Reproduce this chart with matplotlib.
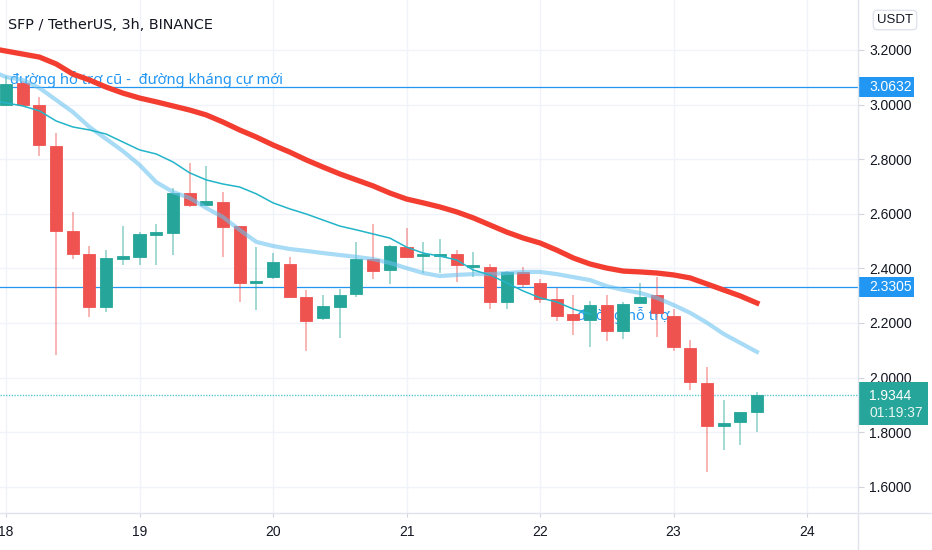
import matplotlib
matplotlib.use('Agg')

import matplotlib.pyplot as plt
from matplotlib.patches import Rectangle
from matplotlib.lines import Line2D
from matplotlib.transforms import blended_transform_factory

# 3h candles, starting on day 18 00:00
opens = [3.000, 3.080, 2.999, 2.848, 2.538, 2.453, 2.257, 2.436, 2.441, 2.524,
         2.529, 2.675, 2.632, 2.644, 2.555, 2.345, 2.370, 2.416, 2.294, 2.217,
         2.260, 2.305, 2.434, 2.394, 2.479, 2.445, 2.445, 2.452, 2.405, 2.406,
         2.276, 2.388, 2.348, 2.288, 2.232, 2.211, 2.266, 2.172, 2.272, 2.303,
         2.227, 2.107, 1.979, 1.824, 1.836, 1.875]
highs = [3.105, 3.085, 3.029, 2.895, 2.605, 2.483, 2.467, 2.556, 2.532, 2.561,
         2.696, 2.785, 2.776, 2.679, 2.556, 2.479, 2.457, 2.441, 2.321, 2.303,
         2.323, 2.498, 2.563, 2.486, 2.548, 2.498, 2.508, 2.467, 2.461, 2.415,
         2.390, 2.404, 2.360, 2.327, 2.303, 2.282, 2.303, 2.278, 2.348, 2.367,
         2.250, 2.138, 2.038, 1.918, 1.875, 1.948]
lows = [2.995, 2.995, 2.812, 2.083, 2.434, 2.221, 2.239, 2.412, 2.412, 2.412,
        2.449, 2.624, 2.632, 2.441, 2.278, 2.248, 2.360, 2.290, 2.099, 2.211,
        2.144, 2.296, 2.361, 2.343, 2.443, 2.382, 2.384, 2.349, 2.367, 2.251,
        2.251, 2.331, 2.274, 2.208, 2.155, 2.111, 2.135, 2.141, 2.272, 2.148,
        2.099, 1.955, 1.655, 1.735, 1.753, 1.802]
closes = [3.075, 2.999, 2.852, 2.538, 2.453, 2.257, 2.437, 2.440, 2.526, 2.528,
          2.675, 2.632, 2.648, 2.553, 2.345, 2.355, 2.422, 2.294, 2.208, 2.262,
          2.303, 2.434, 2.390, 2.482, 2.443, 2.449, 2.449, 2.412, 2.410, 2.276,
          2.386, 2.342, 2.287, 2.227, 2.211, 2.266, 2.172, 2.268, 2.296, 2.235,
          2.111, 1.983, 1.824, 1.833, 1.875, 1.9344]

ma_slow = [3.196, 3.185, 3.174, 3.149, 3.112, 3.090, 3.064, 3.042, 3.024, 3.010,
           2.995, 2.980, 2.962, 2.936, 2.907, 2.881, 2.852, 2.826, 2.797, 2.771,
           2.746, 2.724, 2.702, 2.676, 2.654, 2.640, 2.625, 2.607, 2.585, 2.559,
           2.533, 2.511, 2.493, 2.467, 2.438, 2.416, 2.401, 2.390, 2.387, 2.383,
           2.376, 2.365, 2.343, 2.321, 2.299, 2.273]
ma_mid = [3.101, 3.090, 3.061, 3.017, 2.973, 2.918, 2.874, 2.830, 2.779, 2.716,
          2.680, 2.658, 2.621, 2.588, 2.541, 2.497, 2.482, 2.471, 2.464, 2.456,
          2.449, 2.442, 2.434, 2.420, 2.401, 2.383, 2.372, 2.376, 2.379, 2.379,
          2.383, 2.387, 2.387, 2.379, 2.368, 2.357, 2.335, 2.321, 2.310, 2.292,
          2.266, 2.237, 2.201, 2.160, 2.127, 2.094]
ma_fast = [3.006, 2.995, 2.977, 2.940, 2.918, 2.907, 2.892, 2.863, 2.834, 2.819,
           2.790, 2.750, 2.724, 2.709, 2.698, 2.673, 2.640, 2.618, 2.599, 2.577,
           2.555, 2.541, 2.526, 2.511, 2.478, 2.456, 2.445, 2.431, 2.394, 2.376,
           2.347, 2.317, 2.292, 2.277, 2.251, 2.233]

price_ticks = [1.6, 1.8, 2.0, 2.2, 2.4, 2.6, 2.8, 3.0, 3.2]
day_ticks = [18, 19, 20, 21, 22, 23, 24]
level_old_support = 3.0632
level_support = 2.3305
last_price = 1.9344
countdown = "01:19:37"

GREEN = "#26a69a"
RED = "#ef5350"
BLUE = "#2196f3"

x = [18 + i / 8.0 for i in range(len(opens))]

fig = plt.figure(figsize=(9.32, 5.5), dpi=100)
ax = fig.add_axes([0, 37 / 550, 858 / 932, 513 / 550])
ax.set_xlim(17.955, 24.382)
ax.set_ylim(1.504, 3.383)

# grid
for d in day_ticks:
    ax.axvline(d, color="#f0f3fa", lw=1, zorder=0)
for p in price_ticks:
    ax.axhline(p, color="#f0f3fa", lw=1, zorder=0)

# candles
for xi, o, h, l, c in zip(x, opens, highs, lows, closes):
    col = GREEN if c >= o else RED
    ax.vlines(xi, l, h, color=col, lw=1.2, alpha=0.5, zorder=3)
    bottom = min(o, c)
    height = max(abs(c - o), 0.008)
    ax.bar(xi, height, bottom=bottom, width=0.09, color=col,
           edgecolor=col, lw=0.6, zorder=4)

# moving averages (lines run in from the left edge)
x0 = 17.955
ax.plot([x0] + x, [3.20] + ma_slow, color="#f23d30", lw=3.8, zorder=6)
ax.plot([x0] + x, [3.11] + ma_mid, color="#69c1ee", lw=3.0, alpha=0.58, zorder=5)
ax.plot([x0] + x[:len(ma_fast)], [3.01] + ma_fast, color="#22b4c8", lw=1.1, zorder=5)

# horizontal levels
ax.axhline(level_old_support, color=BLUE, lw=0.9, zorder=2)
ax.axhline(level_support, color=BLUE, lw=0.9, zorder=2)
ax.axhline(last_price, color="#5cc8d0", lw=1.0, ls=(0, (1, 1)), zorder=2)

# drawn notes
ax.text(18.03, 3.075, "đường hỗ trợ cũ -  đường kháng cự mới", color=BLUE,
        fontsize=10.6, family=["Noto Sans", "DejaVu Sans"], va="baseline", zorder=1)
ax.text(22.277, 2.211, "đường hỗ trợ", color=BLUE, fontsize=10.6,
        family=["Noto Sans", "DejaVu Sans"], va="baseline", zorder=1)

# axes styling
for s in ("top", "left", "right", "bottom"):
    ax.spines[s].set_visible(False)
ax.yaxis.tick_right()
ax.set_yticks(price_ticks)
ax.set_yticklabels(["%.4f" % p for p in price_ticks])
ax.set_xticks(day_ticks)
ax.set_xticklabels([str(d) for d in day_ticks])
ax.tick_params(axis="y", length=4, pad=4, color="#d1d4dc", labelcolor="#131722",
               labelsize=10)
ax.tick_params(axis="x", length=3, pad=6, color="#d1d4dc", labelcolor="#131722",
               labelsize=10)
for lab in ax.get_yticklabels():
    lab.set_family(["Liberation Sans", "DejaVu Sans"])
for lab in ax.get_xticklabels():
    lab.set_family(["Liberation Sans Narrow", "Liberation Sans", "DejaVu Sans"])

# pane borders
fig.add_artist(Line2D([858 / 932, 858 / 932], [0, 1], color="#e0e3eb", lw=1,
                      transform=fig.transFigure))
fig.add_artist(Line2D([0, 1], [37 / 550, 37 / 550], color="#e0e3eb", lw=1,
                      transform=fig.transFigure))

# price labels on the scale
blend = blended_transform_factory(ax.transAxes, ax.transData)
px = 1.0 / 273.0
aw = 1.0 / 858.0
for lvl in (level_old_support, level_support):
    ax.add_patch(Rectangle((1.0, lvl - 10 * px), 56 * aw, 20 * px, transform=blend,
                           facecolor=BLUE, edgecolor="none", clip_on=False, zorder=10))
    ax.text(1.0 + 11 * aw, lvl, "%.4f" % lvl, transform=blend, color="white",
            fontsize=10, family=["Liberation Sans", "DejaVu Sans"],
            ha="left", va="center", clip_on=False, zorder=11)
ax.add_patch(Rectangle((1.0, last_price - 30 * px), 70 * aw, 43 * px, transform=blend,
                       facecolor=GREEN, edgecolor="none", clip_on=False, zorder=10))
ax.text(1.0 + 11 * aw, last_price - 1 * px, "%.4f" % last_price, transform=blend,
        color="white", fontsize=10, family=["Liberation Sans", "DejaVu Sans"],
        ha="left", va="center", clip_on=False, zorder=11)
ax.text(1.0 + 11 * aw, last_price - 18 * px, countdown, transform=blend, color="#e8f5f3",
        fontsize=10, family=["Liberation Sans", "DejaVu Sans"],
        ha="left", va="center", clip_on=False, zorder=11)

fig.text(895 / 932, 1 - 20 / 550, "USDT", ha="center", va="center", fontsize=9.5,
         color="#131722", family=["Liberation Sans", "DejaVu Sans"],
         bbox=dict(boxstyle="round,pad=0.28,rounding_size=0.3", fc="white",
                   ec="#e0e3eb", lw=1))

fig.text(8 / 932, 1 - 25 / 550, "SFP / TetherUS, 3h, BINANCE", ha="left", va="center",
         fontsize=10.4, color="#131722", family=["DejaVu Sans"])

fig.savefig("out.png", dpi=100, facecolor="white")
